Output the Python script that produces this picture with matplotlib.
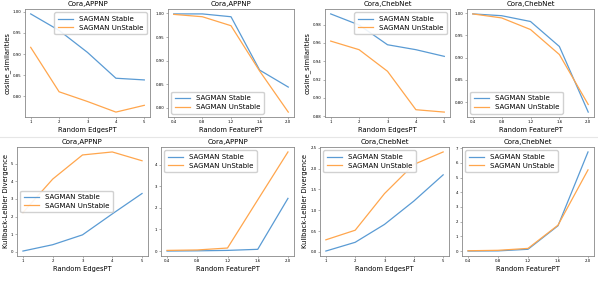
import matplotlib
matplotlib.use('Agg')
import matplotlib.pyplot as plt
from matplotlib.lines import Line2D

# perturbation levels
edges = [1, 2, 3, 4, 5]
feats = [0.4, 0.8, 1.2, 1.6, 2.0]

# cosine similarities
appnp_edge_cos_stable = [0.995, 0.956, 0.904, 0.843, 0.839]
appnp_edge_cos_unstable = [0.916, 0.811, 0.788, 0.763, 0.779]
appnp_feat_cos_stable = [0.999, 0.999, 0.993, 0.880, 0.844]
appnp_feat_cos_unstable = [0.998, 0.993, 0.974, 0.878, 0.791]
cheb_edge_cos_stable = [0.9917, 0.9796, 0.958, 0.9526, 0.9453]
cheb_edge_cos_unstable = [0.962, 0.9526, 0.929, 0.887, 0.8844]
cheb_feat_cos_stable = [0.998, 0.994, 0.981, 0.925, 0.778]
cheb_feat_cos_unstable = [0.998, 0.989, 0.963, 0.907, 0.795]

# KL divergence
appnp_edge_kl_stable = [0.04, 0.40, 0.96, 2.15, 3.31]
appnp_edge_kl_unstable = [2.23, 4.13, 5.50, 5.67, 5.17]
appnp_feat_kl_stable = [0.0, 0.01, 0.03, 0.08, 2.44]
appnp_feat_kl_unstable = [0.03, 0.05, 0.14, 2.37, 4.59]
cheb_edge_kl_stable = [0.02, 0.23, 0.66, 1.22, 1.85]
cheb_edge_kl_unstable = [0.29, 0.52, 1.40, 2.10, 2.40]
cheb_feat_kl_stable = [0.0, 0.01, 0.12, 1.72, 6.74]
cheb_feat_kl_unstable = [0.02, 0.05, 0.18, 1.76, 5.52]

W, H = 598, 302
fig = plt.figure(figsize=(W / 100, H / 100), dpi=100, facecolor='w')


def box(l, t, r, b):
    return [l / W, 1 - b / H, (r - l) / W, (b - t) / H]


def panel(pos, x, ys, yu, title, xlabel, ylabel, loc):
    ax = fig.add_axes(box(*pos))
    ax.plot(x, ys, color='#5a9bd4', lw=0.9, label='SAGMAN Stable')
    ax.plot(x, yu, color='#ffa64d', lw=0.9, label='SAGMAN UnStable')
    ax.set_xticks(x)
    ax.set_title(title, fontsize=5, pad=2)
    ax.set_xlabel(xlabel, fontsize=4.9, labelpad=1.5)
    if ylabel:
        ax.set_ylabel(ylabel, fontsize=4.9, labelpad=1.5)
    ax.tick_params(labelsize=2.8, length=1.5, width=0.4, pad=1, color='#777777')
    for s in ax.spines.values():
        s.set_color('#888888')
        s.set_linewidth(0.6)
    ax.legend(loc=loc, fontsize=5, frameon=True, handlelength=2.2,
              borderpad=0.5, labelspacing=0.4, fancybox=True, framealpha=0.9)
    return ax


panel((25, 9, 150, 117), edges, appnp_edge_cos_stable, appnp_edge_cos_unstable,
      'Cora,APPNP', 'Random EdgesPT', 'cosine_similarities', 'upper right')
panel((168, 9, 294, 117), feats, appnp_feat_cos_stable, appnp_feat_cos_unstable,
      'Cora,APPNP', 'Random FeaturePT', None, 'lower left')
panel((325, 9, 450, 117), edges, cheb_edge_cos_stable, cheb_edge_cos_unstable,
      'Cora,ChebNet', 'Random EdgesPT', 'cosine_similarities', 'upper right')
panel((467, 9, 594, 117), feats, cheb_feat_cos_stable, cheb_feat_cos_unstable,
      'Cora,ChebNet', 'Random FeaturePT', None, 'lower left')

panel((17, 147, 148, 256), edges, appnp_edge_kl_stable, appnp_edge_kl_unstable,
      'Cora,APPNP', 'Random EdgesPT', 'Kullback-Leibler Divergence', 'center left')
panel((161, 147, 294, 256), feats, appnp_feat_kl_stable, appnp_feat_kl_unstable,
      'Cora,APPNP', 'Random FeaturePT', None, 'upper left')
panel((320, 147, 449, 256), edges, cheb_edge_kl_stable, cheb_edge_kl_unstable,
      'Cora,ChebNet', 'Random EdgesPT', 'Kullback-Leibler Divergence', 'upper left')
panel((462, 147, 594, 256), feats, cheb_feat_kl_stable, cheb_feat_kl_unstable,
      'Cora,ChebNet', 'Random FeaturePT', None, 'upper left')

# faint separator between the two rows
fig.add_artist(Line2D([0, 1], [1 - 137 / H, 1 - 137 / H], color='#e6e6e6', lw=0.8))

fig.savefig('out.png', dpi=100)
